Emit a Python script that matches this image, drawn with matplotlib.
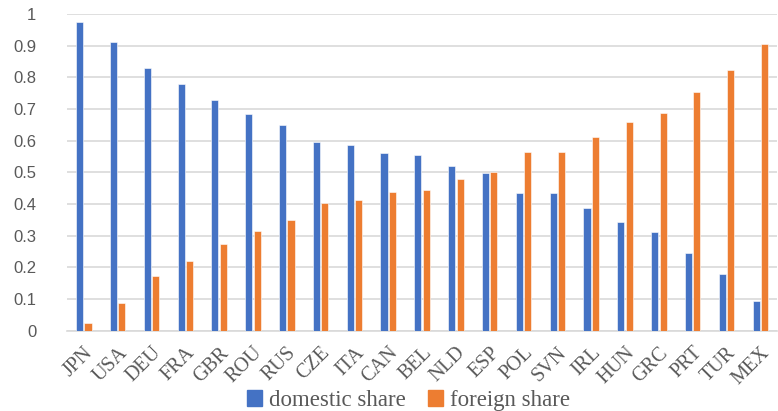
import numpy as np
import matplotlib
matplotlib.use("Agg")
import matplotlib.pyplot as plt
from matplotlib.patches import Patch

countries = ["JPN", "USA", "DEU", "FRA", "GBR", "ROU", "RUS", "CZE", "ITA", "CAN", "BEL",
             "NLD", "ESP", "POL", "SVN", "IRL", "HUN", "GRC", "PRT", "TUR", "MEX"]
domestic = [0.975, 0.912, 0.828, 0.780, 0.727, 0.685, 0.650, 0.596, 0.586, 0.561, 0.556,
            0.521, 0.499, 0.434, 0.434, 0.387, 0.342, 0.313, 0.247, 0.178, 0.095]
foreign = [0.025, 0.088, 0.172, 0.220, 0.273, 0.315, 0.350, 0.404, 0.414, 0.439, 0.444,
           0.479, 0.501, 0.566, 0.566, 0.613, 0.658, 0.687, 0.753, 0.822, 0.905]
yticks = [0, 0.1, 0.2, 0.3, 0.4, 0.5, 0.6, 0.7, 0.8, 0.9, 1]

blue = "#4472C4"
orange = "#ED7D31"
grid = "#D9D9D9"
text_col = "#595959"

fig = plt.figure(figsize=(7.78, 4.11), dpi=100)
ax = fig.add_axes([0.086, 0.195, 0.913, 0.771])

x = np.arange(len(countries))
w = 0.21
ax.bar(x - 0.125, domestic, w, color=blue, edgecolor="white", linewidth=0.4, zorder=3)
ax.bar(x + 0.125, foreign, w, color=orange, edgecolor="white", linewidth=0.4, zorder=3)

ax.set_xlim(-0.5, len(countries) - 0.5)
ax.set_ylim(0, 1)
ax.set_yticks(yticks)
ax.set_yticklabels([f"{v:g}" for v in yticks], fontsize=12, color=text_col,
                   fontfamily="Liberation Sans")
ax.yaxis.grid(True, color=grid, linewidth=1.2, zorder=0)
ax.tick_params(axis="y", length=0, pad=22)

ax.set_xticks(x)
ax.set_xticklabels(countries, rotation=45, ha="right", rotation_mode="anchor",
                   fontsize=14.5, color=text_col, fontfamily="Liberation Serif")
ax.tick_params(axis="x", length=0, pad=9)

for side in ["top", "right", "left"]:
    ax.spines[side].set_visible(False)
ax.spines["bottom"].set_color(grid)
ax.spines["bottom"].set_linewidth(1.2)

handles = [Patch(color=blue, label="domestic share"), Patch(color=orange, label="foreign share")]
fig.legend(handles=handles, loc="lower center", bbox_to_anchor=(0.525, -0.05), ncol=2,
           frameon=False, handlelength=0.65, handleheight=0.65, handletextpad=0.3,
           columnspacing=1.0, prop={"family": "Liberation Serif", "size": 16.5},
           labelcolor=text_col)

fig.savefig("out.png", dpi=100)
